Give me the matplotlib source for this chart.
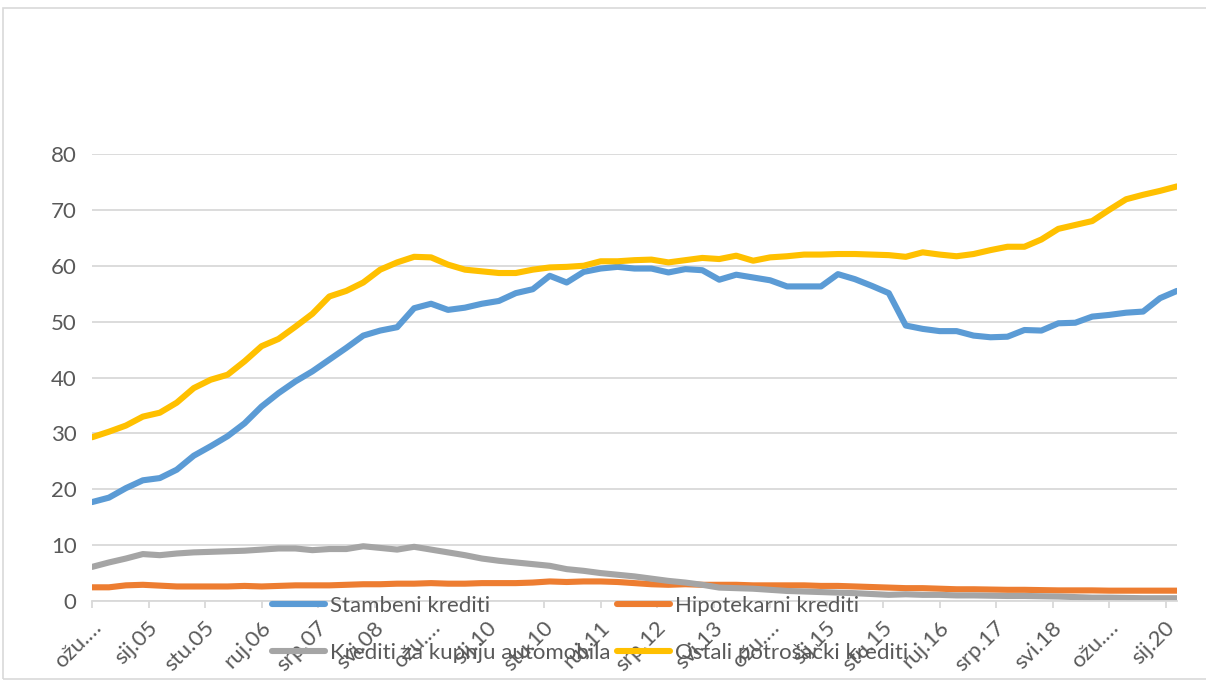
import numpy as np
import matplotlib
matplotlib.use('Agg')
import matplotlib.pyplot as plt
import matplotlib.transforms as mtrans
from matplotlib.patches import Rectangle

# tromjesečni podaci, ožujak 2004. - ožujak 2020.
stambeni = [17.7, 18.5, 20.2, 21.6, 22.0, 23.5, 26.0, 27.7, 29.5, 31.8,
            34.8, 37.2, 39.3, 41.1, 43.2, 45.3, 47.5, 48.4, 49.0, 52.4,
            53.2, 52.1, 52.5, 53.2, 53.7, 55.1, 55.8, 58.2, 57.0, 58.9,
            59.5, 59.8, 59.5, 59.5, 58.8, 59.4, 59.2, 57.5, 58.4, 57.9,
            57.4, 56.3, 56.3, 56.3, 58.5, 57.6, 56.4, 55.1, 49.3, 48.7,
            48.3, 48.3, 47.5, 47.2, 47.3, 48.5, 48.4, 49.7, 49.8, 50.9,
            51.2, 51.6, 51.8, 54.2, 55.5]
hipotekarni = [2.45, 2.45, 2.8, 2.9, 2.75, 2.6, 2.6, 2.6, 2.6, 2.7,
               2.6, 2.7, 2.8, 2.8, 2.8, 2.9, 3.0, 3.0, 3.1, 3.1,
               3.2, 3.1, 3.1, 3.2, 3.2, 3.2, 3.3, 3.5, 3.4, 3.5,
               3.5, 3.4, 3.2, 3.0, 2.9, 3.0, 2.9, 2.9, 2.9, 2.8,
               2.8, 2.8, 2.8, 2.7, 2.7, 2.6, 2.5, 2.4, 2.3, 2.3,
               2.2, 2.1, 2.1, 2.05, 2.0, 2.0, 1.95, 1.9, 1.9, 1.9,
               1.85, 1.85, 1.85, 1.85, 1.85]
automobili = [6.1, 6.9, 7.6, 8.4, 8.2, 8.5, 8.7, 8.8, 8.9, 9.0,
              9.2, 9.4, 9.4, 9.1, 9.3, 9.3, 9.8, 9.5, 9.2, 9.7,
              9.2, 8.7, 8.2, 7.6, 7.2, 6.9, 6.6, 6.3, 5.7, 5.4,
              5.0, 4.7, 4.4, 4.0, 3.6, 3.3, 2.9, 2.4, 2.3, 2.2,
              2.0, 1.8, 1.7, 1.6, 1.5, 1.4, 1.25, 1.1, 1.2, 1.1,
              1.1, 1.0, 1.0, 0.95, 0.9, 0.9, 0.85, 0.8, 0.7, 0.6,
              0.6, 0.55, 0.5, 0.5, 0.5]
ostali = [29.3, 30.3, 31.4, 33.0, 33.7, 35.5, 38.1, 39.6, 40.5, 42.9,
          45.6, 46.9, 49.1, 51.4, 54.5, 55.5, 57.0, 59.3, 60.6, 61.6,
          61.5, 60.2, 59.3, 59.0, 58.7, 58.7, 59.3, 59.7, 59.8, 60.0,
          60.8, 60.8, 61.0, 61.1, 60.6, 61.0, 61.4, 61.2, 61.8, 60.9,
          61.5, 61.7, 62.0, 62.0, 62.1, 62.1, 62.0, 61.9, 61.6, 62.4,
          62.0, 61.7, 62.1, 62.8, 63.4, 63.4, 64.7, 66.6, 67.3, 68.0,
          70.0, 71.9, 72.7, 73.4, 74.2]

# oznake na osi x svakih 10 mjeseci
x_labels = ['ožu.…', 'sij.05', 'stu.05', 'ruj.06', 'srp.07', 'svi.08', 'ožu.…',
            'sij.10', 'stu.10', 'ruj.11', 'srp.12', 'svi.13', 'ožu.…', 'sij.15',
            'stu.15', 'ruj.16', 'srp.17', 'svi.18', 'ožu.…', 'sij.20']

mjeseci = np.arange(len(stambeni)) * 3   # mjeseci od ožujka 2004.
x_ticks = np.arange(len(x_labels)) * 10

plt.rcParams['font.family'] = ['Lato', 'DejaVu Sans']
txt = '#595959'
grid = '#D9D9D9'
fs = 16

fig = plt.figure(figsize=(12.06, 6.82), dpi=100)
fig.patches.append(Rectangle((3 / 1206, 3 / 682), 1.0, 671 / 682, transform=fig.transFigure,
                             fill=False, edgecolor=grid, linewidth=1.2))

ax = fig.add_axes([92 / 1206, 81 / 682, 1085 / 1206, 447 / 682])

lw = 4.4
l1, = ax.plot(mjeseci, stambeni, color='#5B9BD5', lw=lw, solid_capstyle='round', label='Stambeni krediti')
l2, = ax.plot(mjeseci, hipotekarni, color='#ED7D31', lw=lw, solid_capstyle='round', label='Hipotekarni krediti')
l3, = ax.plot(mjeseci, automobili, color='#A5A5A5', lw=lw, solid_capstyle='round', label='Krediti za kupnju automobila')
l4, = ax.plot(mjeseci, ostali, color='#FFC000', lw=lw, solid_capstyle='round', label='Ostali potrošački krediti')

ax.set_xlim(0, mjeseci[-1])
ax.set_ylim(0, 80)
ax.set_yticks(np.arange(0, 81, 10))
ax.grid(axis='y', color=grid, lw=1.3)
ax.set_axisbelow(True)
for s in ['top', 'right', 'left']:
    ax.spines[s].set_visible(False)
ax.spines['bottom'].set_color(grid)
ax.spines['bottom'].set_linewidth(1.3)

ax.tick_params(axis='y', length=0, pad=11, labelsize=fs, labelcolor=txt)
ax.tick_params(axis='x', length=5, width=1.3, color=grid, pad=12, labelsize=fs, labelcolor=txt)
ax.set_xticks(x_ticks)
ax.set_xticklabels(x_labels, rotation=45, ha='right', va='center', rotation_mode='anchor')
pomak = mtrans.ScaledTranslation(6 / 100, 0, fig.dpi_scale_trans)
for lab in ax.get_xticklabels():
    lab.set_transform(lab.get_transform() + pomak)

leg = fig.legend([l1, l3, l2, l4], [l1.get_label(), l3.get_label(), l2.get_label(), l4.get_label()],
                 ncol=2, loc='upper left', bbox_to_anchor=(272 / 1206, 1 - 596 / 682),
                 frameon=False, fontsize=fs, labelcolor=txt, handlelength=2.4, handletextpad=0.2,
                 columnspacing=0.3, labelspacing=1.2, borderpad=0, borderaxespad=0)

fig.savefig('out.png', dpi=100)
